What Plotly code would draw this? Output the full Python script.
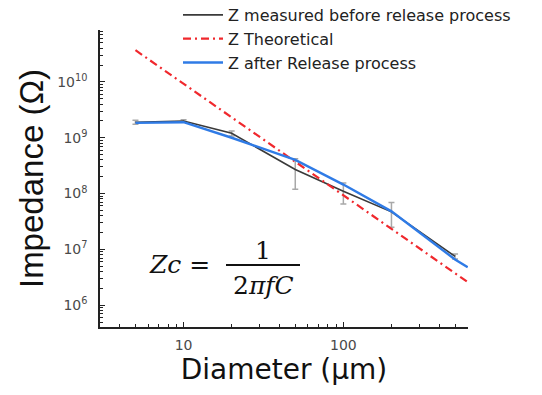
import plotly.graph_objects as go

# Data
x_meas = [5, 10, 20, 50, 100, 200, 500]
z_meas = [1.9e9, 2.0e9, 1.2e9, 2.7e8, 1.1e8, 4.7e7, 7.5e6]
z_meas_err = [0.15e9, 0.1e9, 0.12e9, 1.5e8, 0.45e8, 2.2e7, 0.8e6]

x_theo = [5, 600]
z_theo = [3.7e10, 2.6e6]

x_after = [5, 10, 20, 50, 100, 200, 500, 600]
z_after = [1.85e9, 1.9e9, 1.0e9, 4.0e8, 1.45e8, 4.8e7, 6.6e6, 4.8e6]

x_tick_vals = [10, 100]
x_tick_text = ["10", "100"]
y_tick_vals = [1e6, 1e7, 1e8, 1e9, 1e10]
y_tick_text = ["10<sup>6</sup>", "10<sup>7</sup>", "10<sup>8</sup>", "10<sup>9</sup>", "10<sup>10</sup>"]
x_minor_ticks = [4, 5, 6, 7, 8, 9, 20, 30, 40, 50, 60, 70, 80, 90, 200, 300, 400, 500]
y_minor_ticks = [m * 10 ** e for e in range(5, 11) for m in range(2, 10)]

L, R, T, B = 100, 74, 30, 68
W, H = 542, 395
pw, ph = W - L - R, H - T - B

def px(xp):
    return (xp - L) / pw

def py(yp):
    return (H - B - yp) / ph

fig = go.Figure()
fig.add_trace(go.Scatter(
    x=x_meas, y=z_meas, mode="lines", name="Z measured before release process",
    line=dict(color="#3a3a3a", width=1.6),
    error_y=dict(type="data", array=z_meas_err, color="#a8a8a8", thickness=1.5, width=3),
))
fig.add_trace(go.Scatter(
    x=x_theo, y=z_theo, mode="lines", name="Z Theoretical",
    line=dict(color="#f0282d", width=2.2, dash="8px,4px,2px,4px"),
))
fig.add_trace(go.Scatter(
    x=x_after, y=z_after, mode="lines", name="Z after Release process",
    line=dict(color="#2f7be6", width=2.4),
))

axis_font = dict(family="DejaVu Sans", size=14, color="#4a4a4a")
fig.update_xaxes(
    type="log", range=[0.477, 2.78], tickmode="array", tickvals=x_tick_vals, ticktext=x_tick_text,
    showline=True, linecolor="#222", linewidth=1.5, automargin=False,
    ticks="inside", ticklen=5, tickcolor="#222", tickwidth=1.2,
    minor=dict(ticks="inside", ticklen=3, tickcolor="#222", tickvals=x_minor_ticks, showgrid=False),
    showgrid=False, zeroline=False, tickfont=axis_font, ticklabelstandoff=4,
    title=dict(text="Diameter (µm)", font=dict(family="DejaVu Sans", size=28, color="#111"), standoff=6),
)
fig.update_yaxes(
    type="log", range=[5.61, 10.93], tickmode="array", tickvals=y_tick_vals, ticktext=y_tick_text,
    showline=True, linecolor="#222", linewidth=1.5, automargin=False,
    ticks="inside", ticklen=5, tickcolor="#222", tickwidth=1.2,
    minor=dict(ticks="inside", ticklen=3, tickcolor="#222", tickvals=y_minor_ticks, showgrid=False),
    showgrid=False, zeroline=False, tickfont=axis_font, ticklabelstandoff=8,
    title=dict(text="Impedance (Ω)", font=dict(family="Liberation Sans, Arial", size=33, color="#111"), standoff=4),
)

serif = "DejaVu Serif"
ffont = dict(family=serif, size=25, color="#111")
fig.add_annotation(xref="paper", yref="paper", x=px(179), y=py(264), text="<i>Zc</i> =",
                   showarrow=False, xanchor="center", yanchor="middle", font=ffont)
fig.add_annotation(xref="paper", yref="paper", x=px(263), y=py(250), text="1",
                   showarrow=False, xanchor="center", yanchor="middle", font=ffont)
fig.add_annotation(xref="paper", yref="paper", x=px(263), y=py(285), text="2<i>πfC</i>",
                   showarrow=False, xanchor="center", yanchor="middle", font=ffont)
fig.add_shape(type="line", xref="paper", yref="paper", x0=px(226), x1=px(300), y0=py(265), y1=py(265),
              line=dict(color="#111", width=2))

fig.update_layout(
    width=W, height=H, margin=dict(l=L, r=R, t=T, b=B, autoexpand=False),
    paper_bgcolor="white", plot_bgcolor="white",
    showlegend=True,
    legend=dict(x=px(178), y=py(-2), xanchor="left", yanchor="top",
                bgcolor="rgba(0,0,0,0)", font=dict(family="DejaVu Sans", size=16, color="#222"),
                itemwidth=40),
)

fig.write_html("out.html")
